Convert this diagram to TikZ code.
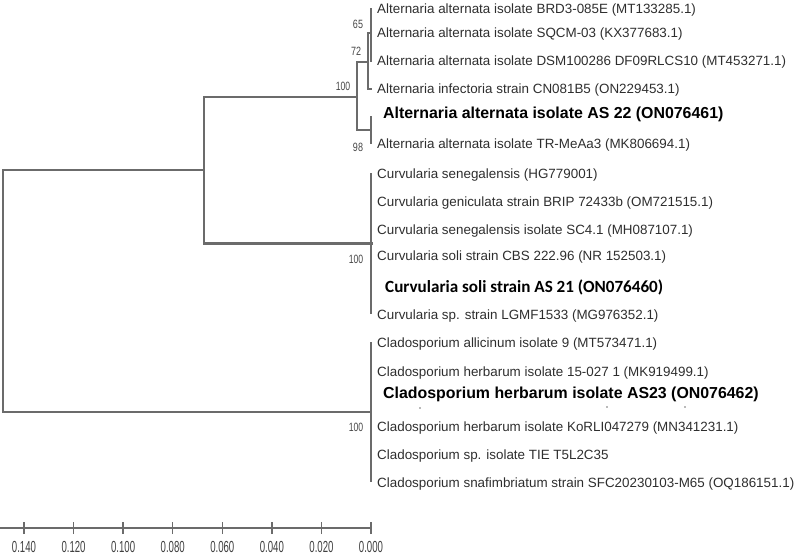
\documentclass[tikz,border=0pt]{standalone}
\usepackage{fontspec}
\setmainfont{Liberation Sans}
\newfontfamily\calibri{Carlito}
\begin{document}
\begin{tikzpicture}[x=1pt,y=-1pt,
  br/.style={draw=black!58, line width=1.7pt, line cap=rect},
  leaf/.style={anchor=base west, inner sep=0pt, text=black!82, font=\fontsize{13.4}{14}\selectfont},
  bleaf/.style={anchor=base west, inner sep=0pt, text=black, font=\fontsize{15.9}{16}\selectfont\bfseries},
  cleaf/.style={anchor=base west, inner sep=0pt, text=black, font=\calibri\fontsize{17.1}{17}\selectfont\bfseries},
  boot/.style={inner sep=0pt, text=black!72, font=\fontsize{12}{12}\selectfont},
  axlab/.style={anchor=base, inner sep=0pt, text=black!75, font=\fontsize{16}{16}\selectfont},
  dotmark/.style={fill=black!55, draw=none}
]
\useasboundingbox (0,0) rectangle (797,555);

% ---- tree coordinates ----
\coordinate (R1) at (3,170);   \coordinate (R2) at (3,412);
\coordinate (N1a) at (204,97); \coordinate (N1m) at (204,170); \coordinate (N1b) at (204,243);
\coordinate (NAa) at (357,62); \coordinate (NAm) at (357,97);  \coordinate (NAb) at (357,130);
\coordinate (N72a) at (368,33); \coordinate (N72m) at (368,62); \coordinate (N72b) at (368,89);
\coordinate (N65a) at (371,9);  \coordinate (N65m) at (371,33); \coordinate (N65b) at (371,61);
\coordinate (T4) at (371,89);
\coordinate (N98a) at (371,117); \coordinate (N98m) at (371,130); \coordinate (N98b) at (371,143);
\coordinate (NCa) at (371,174); \coordinate (NCm) at (371,243); \coordinate (NCb) at (371,313);
\coordinate (NDa) at (371,343); \coordinate (NDm) at (371,412); \coordinate (NDb) at (371,481);

% ---- branches ----
\draw[br] (R1) -- (R2);
\draw[br] (R1) -- (N1m);
\draw[br] (R2) -- (NDm);
\draw[br] (N1a) -- (N1b);
\draw[br] (N1a) -- (NAm);
\draw[br, line width=3pt] (N1b) -- (NCm);
\draw[br] (NAa) -- (NAb);
\draw[br] (NAa) -- (N72m);
\draw[br] (NAb) -- (N98m);
\draw[br] (N72a) -- (N72b);
\draw[br] (N72a) -- (N65m);
\draw[br] (N72b) -- (T4);
\draw[br] (N65a) -- (N65b);
\draw[br] (N98a) -- (N98b);
\draw[br] (NCa) -- (NCb);
\draw[br] (NDa) -- (NDb);

% ---- bootstrap values ----
\node[boot] (b65) at (358,24) {\scalebox{0.75}[1]{65}};
\node[boot] (b72) at (356,51) {\scalebox{0.75}[1]{72}};
\node[boot] (b100a) at (343,86) {\scalebox{0.72}[1]{100}};
\node[boot] (b98) at (358,147) {\scalebox{0.75}[1]{98}};
\node[boot] (b100c) at (356,259) {\scalebox{0.72}[1]{100}};
\node[boot] (b100d) at (356,427) {\scalebox{0.72}[1]{100}};

% ---- leaves ----
\node[leaf] (a1) at (377,13.8) {Alternaria alternata isolate BRD3-085E (MT133285.1)};
\node[leaf] (a2) at (377,37.8) {Alternaria alternata isolate SQCM-03 (KX377683.1)};
\node[leaf] (a3) at (377,65.8) {Alternaria alternata isolate DSM100286 DF09RLCS10 (MT453271.1)};
\node[leaf] (a4) at (377,93.8) {Alternaria infectoria strain CN081B5 (ON229453.1)};
\node[bleaf] (a5) at (383,118.7) {Alternaria alternata isolate AS 22 (ON076461)};
\node[leaf] (a6) at (377,148.3) {Alternaria alternata isolate TR-MeAa3 (MK806694.1)};

\node[leaf] (c1) at (377,178.8) {Curvularia senegalensis (HG779001)};
\node[leaf] (c2) at (377,206.8) {Curvularia geniculata strain BRIP 72433b (OM721515.1)};
\node[leaf] (c3) at (377,234.8) {Curvularia senegalensis isolate SC4.1 (MH087107.1)};
\node[leaf] (c4) at (377,260.8) {Curvularia soli strain CBS 222.96 (NR 152503.1)};
\node[cleaf] (c5) at (385,292.5) {Curvularia soli strain AS 21 (ON076460)};
\node[leaf] (c6) at (377,319.8) {Curvularia sp. strain LGMF1533 (MG976352.1)};

\node[leaf] (d1) at (377,347.8) {Cladosporium allicinum isolate 9 (MT573471.1)};
\node[leaf] (d2) at (377,376.8) {Cladosporium herbarum isolate 15-027 1 (MK919499.1)};
\node[bleaf] (d3) at (383,398.7) {Cladosporium herbarum isolate AS23 (ON076462)};
\node[leaf] (d4) at (377,431.8) {Cladosporium herbarum isolate KoRLI047279 (MN341231.1)};
\node[leaf] (d5) at (377,459.8) {Cladosporium sp. isolate TIE T5L2C35};
\node[leaf] (d6) at (377,487.8) {Cladosporium snafimbriatum strain SFC20230103-M65 (OQ186151.1)};

% small specks under the bold Cladosporium label
\fill[dotmark] (420,408) circle (0.8);
\fill[dotmark] (607,407) circle (0.8);
\fill[dotmark] (685,407) circle (0.8);

% ---- scale axis ----
\coordinate (ax0) at (0,528);
\coordinate (ax1) at (371,528);
\draw[br, line width=1.4pt, line cap=butt] (ax0) -- (ax1);
\foreach \i/\lab in {0/0.140,1/0.120,2/0.100,3/0.080,4/0.060,5/0.040,6/0.020,7/0.000}{
  \pgfmathsetmacro{\tx}{24+49.57*\i}
  \coordinate (tk\i) at (\tx,528);
  \draw[br, line width=1.3pt, line cap=butt] ([yshift=-6pt]tk\i) -- ([yshift=6pt]tk\i);
  \node[axlab] (lab\i) at ([yshift=-24pt]tk\i) {\scalebox{0.6}[1]{\lab}};
}
\end{tikzpicture}
\end{document}
